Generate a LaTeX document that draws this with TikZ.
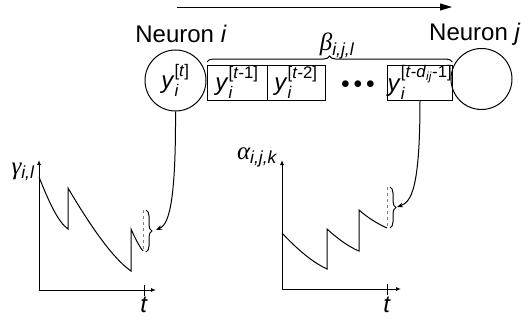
\documentclass[tikz,border=0pt]{standalone}
\usepackage{amsmath}
\usepackage{fontspec}
\setmainfont{Liberation Sans}
\newfontfamily\grkfont{Liberation Serif}
\usetikzlibrary{arrows.meta, positioning, decorations.pathreplacing}

\newcommand{\yslot}[1]{\textit{y}$_{\textit{i}}^{\text{[#1]}}$}
\newcommand{\grk}[2]{{\grkfont\itshape #1}$_{\textit{#2}}$}

\begin{document}
\begin{tikzpicture}[x=1pt, y=-1pt,
  font=\fontsize{24}{28}\selectfont,
  neuron/.style={draw, circle, line width=1pt, minimum size=61pt, inner sep=0pt},
  slot/.style={draw, line width=1pt, minimum height=35pt, inner sep=0pt, outer sep=0pt},
  axis/.style={line width=1pt, -{Latex[length=5pt,width=4pt]}},
  trace/.style={line width=1pt},
  flow/.style={line width=1pt, -{Stealth[length=6pt,width=4.5pt]}},
  brc/.style={decorate, decoration={brace, amplitude=6pt}, line width=1pt},
  dashline/.style={dashed, gray, line width=0.6pt},
  lbl/.style={font=\fontsize{25}{28}\selectfont},
]
\useasboundingbox (0,0) rectangle (528,324);

% direction of transmission
\coordinate (flowA) at (177,7);
\coordinate (flowB) at (452,7);
\draw[line width=1pt, -{Triangle[length=12pt,width=7pt]}] (flowA) -- (flowB);

% neurons and delay line
\node[neuron] (ni) at (175.5,80.5) {\yslot{\textit{t}}};
\node[neuron] (nj) at (481.5,79) {};
\node (ti) at (181,34) {Neuron \textit{i}};
\node[anchor=east] (tj) at (524,34) {Neuron \textit{j}};

\node[slot, minimum width=60pt] (b1) at (237,82.5) {\yslot{\textit{t}-1}};
\node[slot, minimum width=58pt, right=0pt of b1] (b2) {\yslot{\textit{t}-2}};
\node[slot, minimum width=62pt] (bd) at (420,82.5) {\yslot{\textit{t}-\textit{d}\textsubscript{\textit{ij}}-1}};
\node (dots) at (358,85) {\fontsize{16}{16}\selectfont$\bullet\bullet\bullet$};

\draw[brc] ([yshift=3pt]b1.north west) coordinate (bl) -- (bd.north east |- bl);
\node[lbl] (beta) at (337,46) {\grk{β}{i,j,l}};

% gamma plot
\draw[axis] (39,290) -- (39,160);
\draw[axis] (39,290) -- (156,290);
\draw[line width=1pt] (144,285) -- (144,296);
\node (t1) at (144,305) {\textit{t}};
\node[lbl] (gam) at (23,172) {\grk{γ}{i,l}};
\draw[trace] (39,177) .. controls (49,202) and (58,222) .. (68,229)
  -- (68,188) .. controls (88,222) and (112,258) .. (131,271)
  -- (131,229) .. controls (135,238) and (139,246) .. (143,251);
\draw[dashline] (143,210) -- (143,251);
\draw[brc] (146,210) -- (146,252);
\coordinate (gtip) at (156,230);
\draw[flow] (ni.south) .. controls (176,212) and (167,225) .. (gtip);

% alpha plot
\draw[axis] (282,289) -- (282,160);
\draw[axis] (282,289) -- (401,289);
\draw[line width=1pt] (387,284) -- (387,295);
\node (t2) at (387,305) {\textit{t}};
\node[lbl] (alp) at (257,157) {\grk{α}{i,j,k}};
\draw[trace] (282,233) .. controls (297,249) and (312,262) .. (327,269)
  -- (327,229) .. controls (338,239) and (349,247) .. (359,251)
  -- (359,210) .. controls (368,218) and (378,224) .. (387,228);
\draw[dashline] (387,187) -- (387,228);
\draw[brc] (390,187) -- (390,228);
\coordinate (atip) at (397,207);
\draw[flow] (bd.south) .. controls (420,190) and (411,202) .. (atip);
\end{tikzpicture}
\end{document}
